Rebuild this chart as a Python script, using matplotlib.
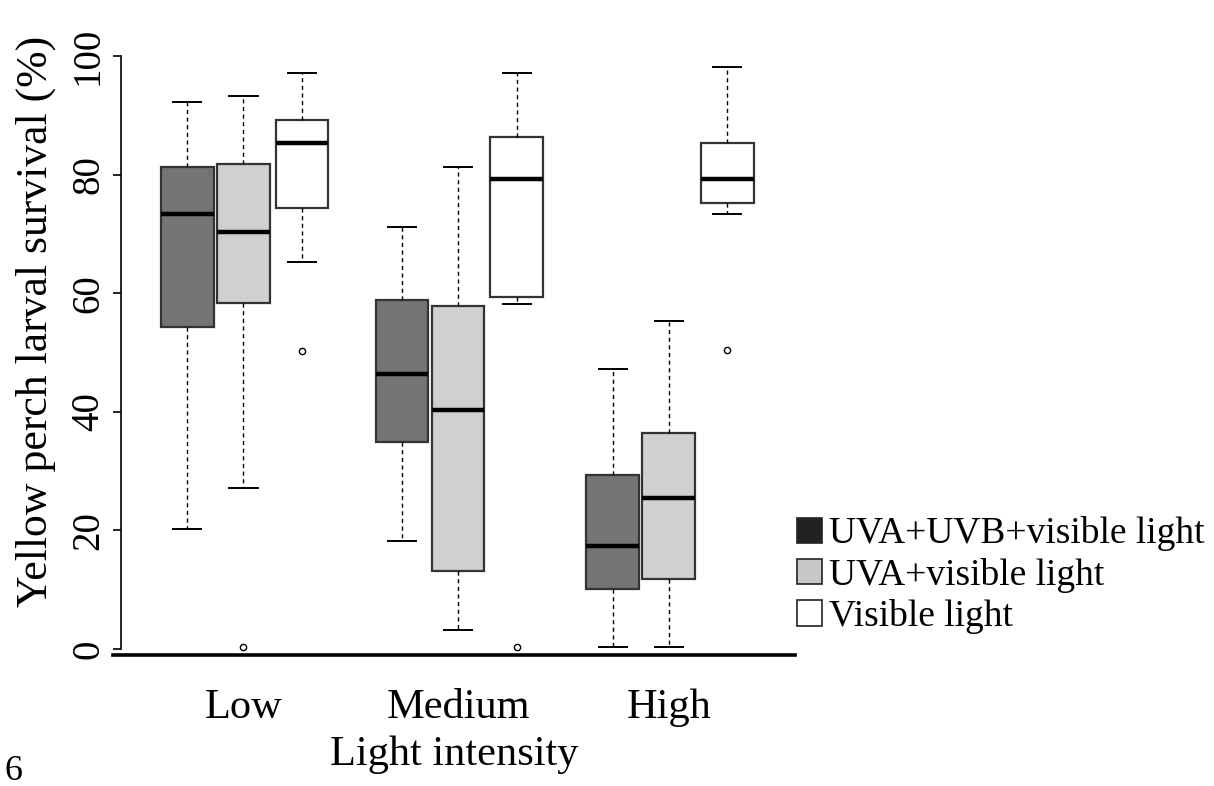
import matplotlib
matplotlib.use("Agg")
import matplotlib.pyplot as plt
from matplotlib.patches import Patch
import numpy as np

plt.rcParams['font.family'] = ['Liberation Serif', 'DejaVu Serif']

# light intensity groups and treatments
groups = ["Low", "Medium", "High"]
treatments = ["UVA+UVB+visible light", "UVA+visible light", "Visible light"]

# box statistics, one list per treatment (Low, Medium, High)
uvb_whislo = [20.3, 18.2, 0.3]
uvb_q1 = [54.3, 34.9, 10.2]
uvb_med = [73.4, 46.3, 17.3]
uvb_q3 = [81.3, 58.9, 29.3]
uvb_whishi = [92.2, 71.2, 47.2]
uvb_fliers = [[], [], []]

uva_whislo = [27.2, 3.2, 0.3]
uva_q1 = [58.3, 13.1, 11.8]
uva_med = [70.3, 40.3, 25.4]
uva_q3 = [81.8, 57.8, 36.4]
uva_whishi = [93.3, 81.3, 55.3]
uva_fliers = [[0.4], [], []]

vis_whislo = [65.3, 58.2, 73.3]
vis_q1 = [74.3, 59.4, 75.2]
vis_med = [85.3, 79.3, 79.3]
vis_q3 = [89.3, 86.3, 85.3]
vis_whishi = [97.2, 97.2, 98.2]
vis_fliers = [[50.3], [0.4], [50.4]]

fills = ["#747474", "#d0d0d0", "white"]
legend_fills = ["#222222", "#c8c8c8", "white"]

series = [
    (uvb_whislo, uvb_q1, uvb_med, uvb_q3, uvb_whishi, uvb_fliers),
    (uva_whislo, uva_q1, uva_med, uva_q3, uva_whishi, uva_fliers),
    (vis_whislo, vis_q1, vis_med, vis_q3, vis_whishi, vis_fliers),
]

fig = plt.figure(figsize=(12.14, 7.86), dpi=100)
ax = fig.add_axes([0.0931, 0.1667, 0.5618, 0.7997])

group_centers = np.array([1.0, 4.67, 8.27])
offsets = [-0.96, 0.0, 1.0]

for k, (wlo, q1, med, q3, whi, fl) in enumerate(series):
    stats = []
    for g in range(3):
        stats.append(dict(whislo=wlo[g], q1=q1[g], med=med[g], q3=q3[g],
                          whishi=whi[g], fliers=fl[g]))
    ax.bxp(stats, positions=group_centers + offsets[k], widths=0.9,
           patch_artist=True, showfliers=True,
           boxprops=dict(facecolor=fills[k], edgecolor="#333333", linewidth=1.6),
           medianprops=dict(color="black", linewidth=3.2),
           whiskerprops=dict(color="black", linewidth=1.0, linestyle=(0, (3, 2.5))),
           capprops=dict(color="black", linewidth=1.4),
           capwidths=0.48,
           flierprops=dict(marker="o", markersize=4.5, markerfacecolor="none",
                           markeredgecolor="black", markeredgewidth=1.0))

ax.set_xlim(-1.23, 10.43)
ax.set_ylim(-1, 105)

for s in ["top", "right"]:
    ax.spines[s].set_visible(False)
ax.spines["bottom"].set_linewidth(2.6)
ax.spines["left"].set_position(("axes", 0.0117))
ax.spines["left"].set_bounds(0, 100)
ax.spines["left"].set_linewidth(1.2)

ax.set_yticks([0, 20, 40, 60, 80, 100])
ax.set_yticklabels(["0", "20", "40", "60", "80", "100"], rotation=90, va="center")
ax.tick_params(axis="y", labelsize=28, length=6, width=1.2, pad=4)

ax.set_xticks(group_centers)
ax.set_xticklabels(groups)
ax.tick_params(axis="x", labelsize=30.5, length=0, pad=24)

ax.set_xlabel("Light intensity", fontsize=30.5, labelpad=6)
ax.set_ylabel("Yellow perch larval survival (%)", fontsize=31.5)
ax.yaxis.set_label_coords(-0.084, 0.53)

handles = [Patch(facecolor=legend_fills[i], edgecolor="#222222", linewidth=1.2)
           for i in range(3)]
fig.legend(handles, treatments, loc="upper left", bbox_to_anchor=(0.644, 0.362),
           frameon=False, fontsize=27, handlelength=0.66, handleheight=0.66,
           handletextpad=0.2, labelspacing=0.17, borderaxespad=0)

fig.text(0.004, 0.018, "6", fontsize=26, ha="left", va="center")

fig.savefig("out.png", dpi=100)
